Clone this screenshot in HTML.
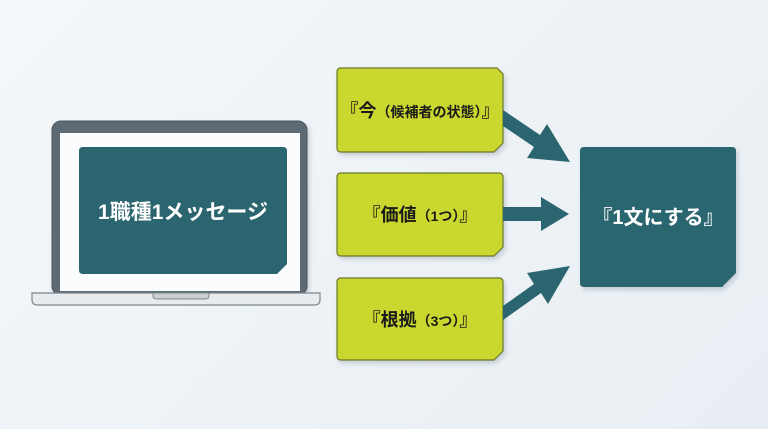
<!DOCTYPE html>
<html><head><meta charset="utf-8"><style>
body{margin:0;width:768px;height:429px;overflow:hidden;background:linear-gradient(135deg,#f4f7fa,#e8eef3);font-family:"Liberation Sans","Noto Sans CJK JP",sans-serif;}
</style></head><body>
<svg width="768" height="429" viewBox="0 0 768 429" xmlns="http://www.w3.org/2000/svg" style="position:absolute;left:0;top:0">
<defs><filter id="s" x="-10%" y="-10%" width="130%" height="130%"><feDropShadow dx="2" dy="3" stdDeviation="2.5" flood-color="#7a8a95" flood-opacity="0.35"/></filter></defs>
<!-- laptop -->
<rect x="52" y="121" width="255" height="174" rx="9" fill="#5d6b73" stroke="#4a565d" filter="url(#s)"/>
<rect x="60" y="133" width="240" height="158" fill="#fbfcfd"/>
<path d="M32 293 H320 V300 Q320 305 314 305 H38 Q32 305 32 300 Z" fill="#e7ebee" stroke="#7d878d" stroke-width="1.2"/>
<path d="M153 293 H209 V296 Q209 299 205 299 H157 Q153 299 153 296 Z" fill="#c9cfd3" stroke="#7d878d" stroke-width="1"/>
<path d="M82 147 H283 Q287 147 287 151 V264 L277 274 H83 Q79 274 79 270 V151 Q79 147 83 147 Z" fill="#2b6670"/>
<text x="183" y="219" text-anchor="middle" font-size="21" font-weight="bold" fill="#fff">1職種1メッセージ</text>
<!-- yellow boxes -->
<g filter="url(#s)" fill="#c9d72f" stroke="#6e7a2a" stroke-width="1.2">
<path d="M341 68 H497 L503 74 V143 L494 152 H341 Q337 152 337 148 V72 Q337 68 341 68 Z"/>
<path d="M341 173 H499 Q503 173 503 177 V247 L494 256 H341 Q337 256 337 252 V177 Q337 173 341 173 Z"/>
<path d="M341 278 H499 Q503 278 503 282 V351 L494 360 H341 Q337 360 337 356 V282 Q337 278 341 278 Z"/>
</g>
<text x="420" y="117" text-anchor="middle" font-size="18" font-weight="bold" fill="#1a1a1a">『今<tspan font-size="14">（候補者の状態）</tspan>』</text>
<text x="420" y="221" text-anchor="middle" font-size="18" font-weight="bold" fill="#1a1a1a">『価値<tspan font-size="14">（1つ）</tspan>』</text>
<text x="420" y="326" text-anchor="middle" font-size="18" font-weight="bold" fill="#1a1a1a">『根拠<tspan font-size="14">（3つ）</tspan>』</text>
<!-- arrows -->
<g fill="#2b6670">
<path d="M503 110 L540 135 L547 124 L570 162 L527 158 L534 147 L503 126 Z"/>
<path d="M503 207 H541 V197 L569 214 L541 231 V221 H503 Z"/>
<path d="M503 306 L534 284 L527 273 L570 266 L548 304 L541 293 L503 320 Z"/>
</g>
<!-- right box -->
<path d="M584 147 H732 Q736 147 736 151 V273 L722 287 H584 Q580 287 580 283 V151 Q580 147 584 147 Z" fill="#2b6670" filter="url(#s)"/>
<text x="658" y="224" text-anchor="middle" font-size="20" font-weight="bold" fill="#fff">『1文にする』</text>
</svg>
</body></html>
